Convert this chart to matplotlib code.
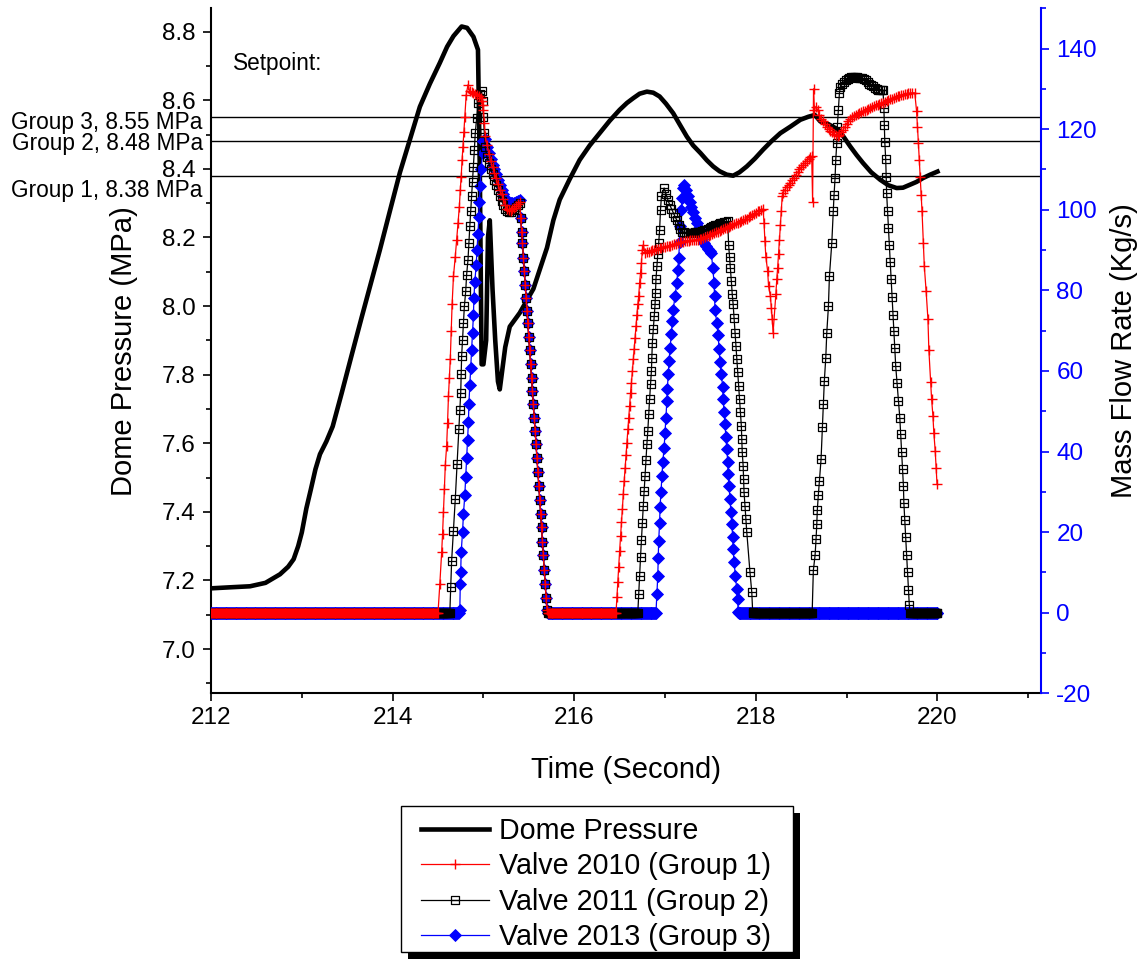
""" dome pressure and safety valve flow during the pressure transient """

import numpy as np
from matplotlib import pyplot as plt
from matplotlib.path import Path
from matplotlib.patches import Rectangle

plt.rcParams["font.family"] = ["Liberation Sans", "DejaVu Sans"]
plt.rcParams["axes.unicode_minus"] = False

STEP = 0.01  # logging interval of the code output (s)

# dome pressure (MPa)
time_dome = [212.00, 212.21, 212.43, 212.60, 212.76, 212.85, 212.91, 212.96, 213.00, 213.05,
             213.10, 213.15, 213.20, 213.27, 213.34, 213.44, 213.55, 213.66, 213.76, 213.86,
             213.97, 214.08, 214.19, 214.30, 214.41, 214.52, 214.60, 214.67, 214.76, 214.82,
             214.89, 214.94, 214.96, 214.98, 215.00, 215.03, 215.05, 215.07, 215.10, 215.13,
             215.16, 215.18, 215.24, 215.29, 215.40, 215.55, 215.70, 215.77, 215.84, 215.95,
             216.06, 216.17, 216.28, 216.39, 216.50, 216.58, 216.65, 216.72, 216.80, 216.87,
             216.94, 217.01, 217.09, 217.16, 217.24, 217.31, 217.39, 217.46, 217.53, 217.60,
             217.68, 217.75, 217.82, 217.90, 217.99, 218.08, 218.17, 218.27, 218.38, 218.49,
             218.58, 218.65, 218.71, 218.80, 218.91, 218.97, 219.04, 219.11, 219.18, 219.27,
             219.37, 219.46, 219.55, 219.62, 219.70, 219.77, 219.84, 219.92, 220.00]
pres_dome = [7.177, 7.180, 7.183, 7.193, 7.218, 7.240, 7.262, 7.300, 7.340, 7.410,
             7.466, 7.524, 7.568, 7.605, 7.649, 7.747, 7.858, 7.968, 8.066, 8.164,
             8.277, 8.389, 8.485, 8.581, 8.648, 8.709, 8.756, 8.787, 8.815, 8.811,
             8.785, 8.747, 8.400, 7.830, 7.830, 7.900, 8.200, 8.250, 8.050, 7.900,
             7.780, 7.757, 7.880, 7.940, 7.980, 8.050, 8.170, 8.250, 8.310, 8.370,
             8.426, 8.468, 8.504, 8.540, 8.572, 8.592, 8.606, 8.619, 8.625, 8.622,
             8.611, 8.590, 8.562, 8.530, 8.494, 8.468, 8.446, 8.425, 8.407, 8.393,
             8.383, 8.380, 8.390, 8.407, 8.430, 8.456, 8.480, 8.504, 8.523, 8.543,
             8.552, 8.557, 8.538, 8.530, 8.514, 8.492, 8.465, 8.440, 8.417, 8.390,
             8.368, 8.352, 8.344, 8.345, 8.354, 8.362, 8.373, 8.383, 8.392]

setpoints = [8.55, 8.48, 8.38]
setpoint_labels = ["Group 3, 8.55 MPa", "Group 2, 8.48 MPa", "Group 1, 8.38 MPa"]
setpoint_label_y = [8.536, 8.473, 8.337]

# closing of all three valves after the first opening (kg/s)
t_shut = [215.41, 215.42, 215.43, 215.44, 215.45, 215.46, 215.47, 215.48, 215.49, 215.50,
          215.51, 215.52, 215.53, 215.54, 215.55, 215.56, 215.57, 215.58, 215.59, 215.60,
          215.61, 215.62, 215.63, 215.64, 215.65, 215.66, 215.67, 215.68, 215.69, 215.70]
f_shut = [98.0, 94.6, 91.7, 88.0, 84.7, 81.4, 78.1, 75.0, 71.8, 68.5,
          65.1, 61.8, 58.3, 55.0, 51.7, 48.4, 45.1, 41.8, 38.3, 35.0,
          31.5, 28.0, 24.5, 21.2, 17.6, 14.2, 10.7, 7.2, 3.6, 0.6]

# valve 2010 (group 1)
closed_2010 = [(212.00, 214.49), (215.71, 216.46)]
t_2010_open1 = [214.50, 214.52, 214.54, 214.55, 214.56, 214.57, 214.58, 214.595, 214.605, 214.615,
                214.625, 214.635, 214.645, 214.655, 214.67, 214.69, 214.705, 214.72, 214.735, 214.745,
                214.755, 214.765, 214.775, 214.785, 214.795, 214.81, 214.83,
                214.85, 214.87, 214.89, 214.91, 214.93, 214.95, 214.97, 214.98, 214.99, 215.00,
                215.01, 215.02, 215.04, 215.06, 215.08, 215.10, 215.12, 215.14, 215.16, 215.18,
                215.20, 215.22, 215.24, 215.26, 215.28, 215.30, 215.32, 215.34, 215.36, 215.38, 215.40]
f_2010_open1 = [0.0, 7.2, 15.0, 19.6, 25.0, 30.7, 36.6, 41.4, 47.2, 53.8,
                58.3, 62.9, 69.9, 76.5, 83.5, 88.4, 92.5, 96.7, 100.8, 104.9,
                108.2, 112.4, 115.7, 119.4, 123.1, 128.5, 131.0,
                129.4, 129.2, 129.0, 128.8, 128.6, 128.3, 127.8, 127.0, 126.0, 124.8,
                121.5, 118.2, 116.0, 113.8, 112.0, 110.6, 109.2, 107.8, 106.3, 105.0,
                103.8, 102.7, 101.3, 100.2, 99.9, 99.8, 100.1, 100.5, 100.9, 101.4, 101.9]
t_2010_open2 = [216.47, 216.48, 216.49, 216.50, 216.51, 216.52, 216.53, 216.54, 216.55, 216.56,
                216.57, 216.58, 216.59, 216.60, 216.61, 216.62, 216.63, 216.64, 216.65, 216.66,
                216.67, 216.68, 216.69, 216.70, 216.71, 216.72, 216.73, 216.74, 216.75, 216.76,
                216.78, 216.80, 216.82, 216.84, 216.86, 216.88, 216.90, 216.92, 216.94, 216.96,
                216.98, 217.00, 217.02, 217.04, 217.06, 217.08, 217.10, 217.12, 217.14, 217.16,
                217.18, 217.20, 217.22, 217.24, 217.26, 217.28, 217.30, 217.32, 217.34, 217.36,
                217.38, 217.40, 217.42, 217.44, 217.46, 217.48, 217.50, 217.52, 217.54, 217.56,
                217.58, 217.60, 217.62, 217.64, 217.66, 217.68, 217.70, 217.72, 217.74, 217.76,
                217.78, 217.80, 217.82, 217.84, 217.86, 217.88, 217.90, 217.92, 217.94, 217.96,
                217.98, 218.00, 218.02, 218.04, 218.06, 218.08,
                218.09, 218.10, 218.11, 218.13, 218.14, 218.16, 218.17, 218.18, 218.19,
                218.22, 218.23, 218.24, 218.25, 218.26, 218.27, 218.28, 218.29,
                218.30, 218.32, 218.34, 218.36, 218.38, 218.40, 218.42, 218.44, 218.46, 218.48,
                218.50, 218.52, 218.54, 218.56, 218.58, 218.60, 218.615, 218.625, 218.635, 218.645,
                218.66, 218.68, 218.70, 218.72, 218.74, 218.76, 218.78, 218.80, 218.82, 218.84,
                218.86, 218.88, 218.90, 218.92, 218.94, 218.96, 218.98, 219.00, 219.02, 219.04,
                219.06, 219.08, 219.10, 219.12, 219.14, 219.16, 219.18, 219.20, 219.22, 219.24,
                219.26, 219.28, 219.30, 219.32, 219.34, 219.36, 219.38, 219.40, 219.42, 219.44,
                219.46, 219.48, 219.50, 219.52, 219.54, 219.56, 219.58, 219.60, 219.62, 219.64,
                219.66, 219.68, 219.70, 219.72, 219.75,
                219.77, 219.78, 219.79, 219.80, 219.81, 219.82, 219.83, 219.845, 219.855, 219.875,
                219.895, 219.905, 219.925, 219.935, 219.95, 219.96, 219.975, 219.985, 219.995]
f_2010_open2 = [3.9, 7.6, 11.3, 15.4, 19.0, 22.4, 25.7, 29.5, 32.7, 36.0,
                39.2, 42.2, 45.5, 48.4, 51.3, 54.6, 57.1, 60.0, 62.9, 65.5,
                68.2, 71.1, 74.0, 76.5, 78.6, 81.9, 84.3, 86.8, 90.1, 91.3,
                89.3, 89.5, 89.6, 89.8, 90.0, 90.1, 90.2, 90.3, 90.5, 90.6,
                90.7, 90.8, 90.9, 91.0, 91.1, 91.3, 91.5, 91.6, 91.8, 91.9,
                92.0, 92.1, 92.2, 92.2, 92.3, 92.4, 92.4, 92.5, 92.5, 92.6,
                92.7, 92.8, 93.0, 93.2, 93.4, 93.6, 93.8, 94.0, 94.2, 94.4,
                94.6, 94.8, 95.0, 95.2, 95.4, 95.6, 95.8, 96.0, 96.2, 96.4,
                96.6, 96.8, 97.0, 97.2, 97.4, 97.6, 97.8, 98.1, 98.4, 98.7,
                99.0, 99.3, 99.6, 99.8, 100.0, 100.2,
                96.7, 92.2, 88.4, 84.7, 81.0, 78.6, 75.7, 72.8, 69.5,
                79.0, 82.7, 85.6, 88.9, 92.6, 96.3, 99.6, 103.3,
                104.2, 105.0, 105.7, 106.2, 106.7, 107.3, 108.0, 108.7, 109.3, 110.0,
                110.6, 111.1, 111.6, 112.1, 112.6, 113.0, 113.3, 102.0, 130.0, 124.8,
                125.6, 124.8, 123.5, 122.5, 122.0, 121.2, 120.6, 120.0, 119.5, 119.2,
                118.8, 118.5, 118.4, 118.6, 119.2, 119.8, 120.6, 121.4, 122.0, 122.5,
                122.9, 123.2, 123.5, 123.8, 124.0, 124.2, 124.4, 124.6, 124.8, 125.0,
                125.2, 125.5, 125.7, 125.9, 126.1, 126.3, 126.5, 126.6, 126.8, 127.0,
                127.2, 127.4, 127.6, 127.8, 128.0, 128.2, 128.3, 128.5, 128.6, 128.7,
                128.8, 128.9, 128.9, 129.0, 129.0,
                124.4, 120.6, 116.5, 112.4, 108.2, 103.7, 99.6, 91.7, 86.0, 79.8,
                72.8, 65.3, 57.3, 53.1, 48.8, 44.6, 40.2, 36.0, 31.9]

# valve 2011 (group 2)
closed_2011 = [(212.00, 214.63), (215.71, 216.70), (217.97, 218.62), (219.70, 220.00)]
t_2011_open1 = [214.64, 214.65, 214.67, 214.69, 214.71, 214.73, 214.74, 214.75, 214.755, 214.76,
                214.77, 214.78, 214.79, 214.805, 214.815, 214.83, 214.84, 214.85, 214.86, 214.87,
                214.88, 214.89, 214.90, 214.91, 214.925, 214.945, 214.965, 214.98,
                214.99, 215.00, 215.01, 215.02, 215.04, 215.06, 215.08, 215.10, 215.12, 215.14,
                215.16, 215.18, 215.20, 215.22, 215.24, 215.26, 215.28, 215.30, 215.32, 215.34,
                215.36, 215.38, 215.40]
f_2011_open1 = [6.4, 12.9, 20.4, 28.2, 36.9, 45.7, 50.3, 54.6, 59.2, 63.7,
                67.8, 71.9, 76.0, 79.8, 83.9, 87.6, 91.8, 95.9, 99.6, 103.3,
                107.0, 110.7, 114.8, 119.0, 122.7, 126.4, 128.8, 129.5,
                127.0, 123.0, 119.0, 115.5, 113.0, 111.5, 110.0, 108.8, 107.5, 106.2,
                104.8, 103.5, 102.3, 101.2, 100.3, 99.6, 99.4, 99.5, 99.9, 100.3,
                100.8, 101.3, 101.8]
t_2011_open2 = [216.71, 216.72, 216.73, 216.74, 216.75, 216.76, 216.77, 216.78, 216.79, 216.80,
                216.81, 216.82, 216.83, 216.84, 216.85, 216.855, 216.86, 216.87, 216.88, 216.89,
                216.895, 216.90, 216.91, 216.92, 216.93, 216.94, 216.95, 216.96, 216.99,
                217.01, 217.03, 217.05, 217.07, 217.09, 217.11, 217.13, 217.15, 217.17, 217.19,
                217.21, 217.23, 217.25, 217.27, 217.29, 217.31, 217.33, 217.35, 217.37, 217.39,
                217.41, 217.43, 217.45, 217.47, 217.49, 217.51, 217.53, 217.55, 217.57, 217.59,
                217.61, 217.63, 217.65, 217.67, 217.69,
                217.70, 217.71, 217.72, 217.73, 217.74, 217.75, 217.76, 217.77, 217.78, 217.79,
                217.80, 217.81, 217.82, 217.83, 217.84, 217.845, 217.85, 217.86, 217.865, 217.87,
                217.88, 217.89, 217.90, 217.935, 217.955, 217.965]
f_2011_open2 = [4.7, 9.2, 13.8, 18.1, 22.3, 26.4, 30.1, 34.0, 37.9, 41.8,
                45.1, 49.3, 53.1, 56.7, 60.0, 63.3, 67.0, 70.3, 73.6, 76.5,
                79.4, 82.7, 86.0, 89.0, 91.7, 95.0, 100.0, 103.3, 105.4,
                104.0, 102.5, 101.3, 100.3, 99.3, 98.3, 97.4, 96.3, 95.2, 94.6,
                94.4, 94.3, 94.3, 94.3, 94.3, 94.3, 94.4, 94.4, 94.5, 94.6,
                94.7, 94.9, 95.1, 95.3, 95.5, 95.7, 95.9, 96.1, 96.3, 96.5,
                96.7, 96.8, 96.9, 97.0, 97.1,
                91.3, 88.4, 85.6, 82.3, 79.0, 76.5, 73.2, 69.5, 66.2, 62.9,
                59.7, 56.3, 53.0, 49.7, 46.4, 43.1, 39.8, 36.5, 33.2, 29.9,
                26.6, 23.3, 20.0, 10.1, 5.1, 0.2]
t_2011_open3 = [218.633, 218.652, 218.663, 218.671, 218.677, 218.688, 218.70, 218.718, 218.733, 218.744,
                218.754, 218.77, 218.781, 218.799, 218.81, 218.836, 218.853, 218.861, 218.872, 218.88,
                218.891, 218.897, 218.909, 218.92,
                218.93, 218.95, 218.97, 218.99, 219.01, 219.03, 219.05, 219.07, 219.09, 219.11,
                219.13, 219.15, 219.17, 219.19, 219.21, 219.23, 219.25, 219.27, 219.29, 219.31,
                219.33, 219.35, 219.37, 219.39, 219.40,
                219.41, 219.415, 219.42, 219.43, 219.435, 219.44, 219.45, 219.46, 219.47, 219.48,
                219.49, 219.50, 219.51, 219.52, 219.53, 219.54, 219.555, 219.57, 219.585, 219.595,
                219.605, 219.615, 219.625, 219.63, 219.64, 219.65, 219.66, 219.67, 219.68, 219.69]
f_2011_open3 = [10.5, 14.2, 18.3, 22.0, 25.6, 29.2, 32.7, 38.1, 46.0, 51.7,
                57.5, 63.3, 69.5, 76.0, 83.5, 91.7, 99.6, 103.7, 107.8, 112.4,
                116.5, 120.6, 124.8, 128.9,
                130.5, 131.2, 131.8, 132.2, 132.5, 132.7, 132.9, 133.0, 133.0, 132.9,
                132.8, 132.7, 132.6, 132.4, 132.1, 131.7, 131.3, 131.0, 130.6, 130.3,
                130.0, 129.8, 129.7, 129.7, 129.7,
                125.2, 121.0, 116.7, 112.5, 108.2, 104.1, 99.6, 95.5, 91.3, 87.1,
                82.7, 78.4, 74.0, 69.9, 65.6, 61.2, 56.9, 52.5, 48.4, 44.3,
                39.9, 35.6, 31.5, 27.2, 23.1, 18.7, 14.4, 10.1, 5.7, 1.8]

# valve 2013 (group 3)
closed_2013 = [(212.00, 214.73), (215.71, 216.90), (217.81, 220.00)]
t_2013_open1 = [214.74, 214.745, 214.75, 214.755, 214.77, 214.78, 214.795, 214.805, 214.815, 214.825,
                214.835, 214.84, 214.85, 214.86, 214.87, 214.88, 214.89, 214.895, 214.905, 214.92,
                214.93, 214.94, 214.95, 214.955, 214.965, 214.975, 214.99, 215.00, 215.02,
                215.04, 215.06, 215.08, 215.10, 215.12, 215.14, 215.16, 215.18, 215.20, 215.22,
                215.24, 215.26, 215.28, 215.30, 215.32, 215.34, 215.36, 215.38, 215.40]
f_2013_open1 = [0.6, 7.2, 10.2, 15.0, 20.0, 24.5, 29.2, 33.7, 38.4, 42.9,
                47.4, 51.9, 56.5, 60.8, 65.3, 69.5, 73.8, 78.0, 82.1, 86.2,
                90.1, 94.0, 98.3, 102.0, 105.8, 110.0, 114.0, 117.0, 117.5,
                115.5, 114.0, 112.5, 111.2, 110.0, 108.8, 107.5, 106.2, 105.0, 104.0,
                103.0, 102.3, 101.8, 101.6, 101.6, 101.8, 102.0, 102.2, 102.4]
t_2013_open2 = [216.91, 216.92, 216.925, 216.93, 216.94, 216.945, 216.955, 216.965, 216.975, 216.99,
                217.00, 217.01, 217.02, 217.025, 217.035, 217.045, 217.055, 217.07, 217.08, 217.09,
                217.11, 217.13, 217.14, 217.15, 217.16, 217.17, 217.18, 217.19, 217.20, 217.21,
                217.23, 217.25, 217.27, 217.29, 217.31, 217.33, 217.35, 217.37, 217.39, 217.41,
                217.43, 217.45, 217.47, 217.49, 217.51,
                217.525, 217.54, 217.545, 217.55, 217.57, 217.585, 217.595, 217.605, 217.62, 217.635,
                217.64, 217.65, 217.66, 217.67, 217.68, 217.69, 217.695, 217.705, 217.715, 217.725,
                217.735, 217.745, 217.75, 217.76, 217.775, 217.79, 217.80, 217.805]
f_2013_open2 = [4.7, 9.2, 13.5, 17.9, 22.3, 26.2, 29.9, 34.0, 37.3, 41.0,
                44.7, 48.4, 52.5, 55.6, 59.2, 62.5, 65.8, 69.1, 72.4, 75.2,
                78.5, 81.9, 85.1, 88.0, 92.0, 96.0, 100.0, 103.0, 105.5, 106.2,
                105.0, 103.3, 102.0, 100.8, 99.4, 98.0, 96.7, 95.4, 94.0, 92.8,
                91.8, 91.0, 90.3, 89.8, 89.3,
                85.5, 81.9, 78.5, 75.2, 72.0, 68.8, 65.5, 62.2, 59.2, 56.1,
                53.0, 49.7, 46.8, 43.7, 40.6, 37.5, 34.4, 31.4, 28.2, 25.1,
                22.0, 18.9, 15.8, 12.5, 9.2, 5.9, 3.5, 0.2]


def assemble(closed, pieces):
	""" join the closed (zero flow) stretches and the listed open stretches in time order """
	times = [np.arange(start, end + STEP / 2, STEP) for start, end in closed]
	flows = [np.zeros_like(t) for t in times]
	for t, f in pieces:
		times.append(np.asarray(t, dtype=float))
		flows.append(np.asarray(f, dtype=float))
	times = np.concatenate(times)
	flows = np.concatenate(flows)
	order = np.argsort(times, kind="stable")
	return times[order], flows[order]


def px(x, y):
	""" figure fraction from pixel position measured from the top left corner """
	return x / 1147, 1 - y / 967


t_2010, f_2010 = assemble(closed_2010, [(t_2010_open1, f_2010_open1), (t_shut, f_shut), (t_2010_open2, f_2010_open2)])
t_2011, f_2011 = assemble(closed_2011, [(t_2011_open1, f_2011_open1), (t_shut, f_shut),
                                        (t_2011_open2, f_2011_open2), (t_2011_open3, f_2011_open3)])
t_2013, f_2013 = assemble(closed_2013, [(t_2013_open1, f_2013_open1), (t_shut, f_shut), (t_2013_open2, f_2013_open2)])

# open square with a bar through the middle, like the Origin symbol
square_bar = Path([(-1, -1), (1, -1), (1, 1), (-1, 1), (-1, -1), (-1, 0), (1, 0)],
                  [Path.MOVETO, Path.LINETO, Path.LINETO, Path.LINETO, Path.CLOSEPOLY, Path.MOVETO, Path.LINETO])

fig = plt.figure(figsize=(11.47, 9.67), dpi=100)
ax = fig.add_axes([211 / 1147, 1 - 693.3 / 967, (1041 - 211) / 1147, (693.3 - 8.3) / 967])
ax2 = ax.twinx()

# pressure and setpoints
dome, = ax.plot(time_dome, pres_dome, color="black", lw=3.3, solid_joinstyle="round", label="Dome Pressure")
for level, label, y in zip(setpoints, setpoint_labels, setpoint_label_y):
	ax.axhline(level, color="black", lw=1.0)
	ax.text(211.91, y, label, ha="right", va="center", fontsize=16.3, clip_on=False)
ax.text(212.24, 8.708, "Setpoint:", ha="left", va="center", fontsize=16.3)

# valve flows
l13, = ax2.plot(t_2013, f_2013, color="blue", lw=0.9, marker="D", ms=6.0, mfc="blue", mec="blue", mew=0.6,
                label="Valve 2013 (Group 3)")
l11, = ax2.plot(t_2011, f_2011, color="black", lw=0.9, marker=square_bar, ms=6.3, mfc="none", mec="black", mew=0.9,
                label="Valve 2011 (Group 2)")
l10, = ax2.plot(t_2010, f_2010, color="red", lw=0.9, marker="+", ms=7.5, mec="red", mew=1.0,
                label="Valve 2010 (Group 1)")

ax.set_xlim(212, 221.14)
ax.set_ylim(6.871, 8.868)
ax2.set_ylim(-20, 150)
ax.set_xticks([212, 214, 216, 218, 220])
ax.set_xticks(np.arange(213, 222, 2), minor=True)
ax.set_yticks(np.arange(7.0, 8.81, 0.2))
ax.set_yticks(np.arange(6.9, 8.86, 0.2), minor=True)
ax.set_yticklabels([f"{v:.1f}" for v in np.arange(7.0, 8.81, 0.2)])
ax2.set_yticks(np.arange(-20, 141, 20))
ax2.set_yticks(np.arange(-10, 151, 20), minor=True)

for side in ["top", "right"]:
	ax.spines[side].set_visible(False)
for side in ["top", "left", "bottom"]:
	ax2.spines[side].set_visible(False)
ax.spines["left"].set_linewidth(1.5)
ax.spines["bottom"].set_linewidth(1.5)
ax2.spines["right"].set_linewidth(1.5)
ax2.spines["right"].set_color("blue")

ax.tick_params(which="major", direction="out", length=6, width=1.2, labelsize=17.5)
ax.tick_params(which="minor", direction="out", length=3.6, width=1.2)
ax.tick_params(axis="x", pad=4)
ax.tick_params(axis="y", pad=5)
ax2.tick_params(which="major", direction="out", length=6, width=1.2, labelsize=17.5, colors="blue", pad=5)
ax2.tick_params(which="minor", direction="out", length=3.6, width=1.2, colors="blue")

ax.set_xlabel("Time (Second)", fontsize=21, labelpad=19)
ax.set_ylabel("Dome Pressure (MPa)", fontsize=21, labelpad=17)
ax2.set_ylabel("Mass Flow Rate (Kg/s)", fontsize=21, labelpad=9.5)

# legend box drawn by hand so that the frame and its solid shadow sit where the original has them
x0, y0 = px(401, 952)
x1, y1 = px(793, 806)
fig.patches.append(Rectangle((x0 + 7 / 1147, y0 - 7 / 967), x1 - x0, y1 - y0, transform=fig.transFigure,
                             facecolor="black", edgecolor="none", zorder=3))
fig.patches.append(Rectangle((x0, y0), x1 - x0, y1 - y0, transform=fig.transFigure,
                             facecolor="white", edgecolor="black", lw=1.0, zorder=4))
handles = [dome, l10, l11, l13]
legend = fig.legend(handles, [h.get_label() for h in handles], loc="upper left", bbox_to_anchor=px(421, 817),
                    fontsize=20.6, frameon=False, numpoints=1, handlelength=2.36, handletextpad=0.35,
                    labelspacing=0.26, borderpad=0, borderaxespad=0)
legend.set_zorder(5)

fig.savefig("out.png", dpi=100)
